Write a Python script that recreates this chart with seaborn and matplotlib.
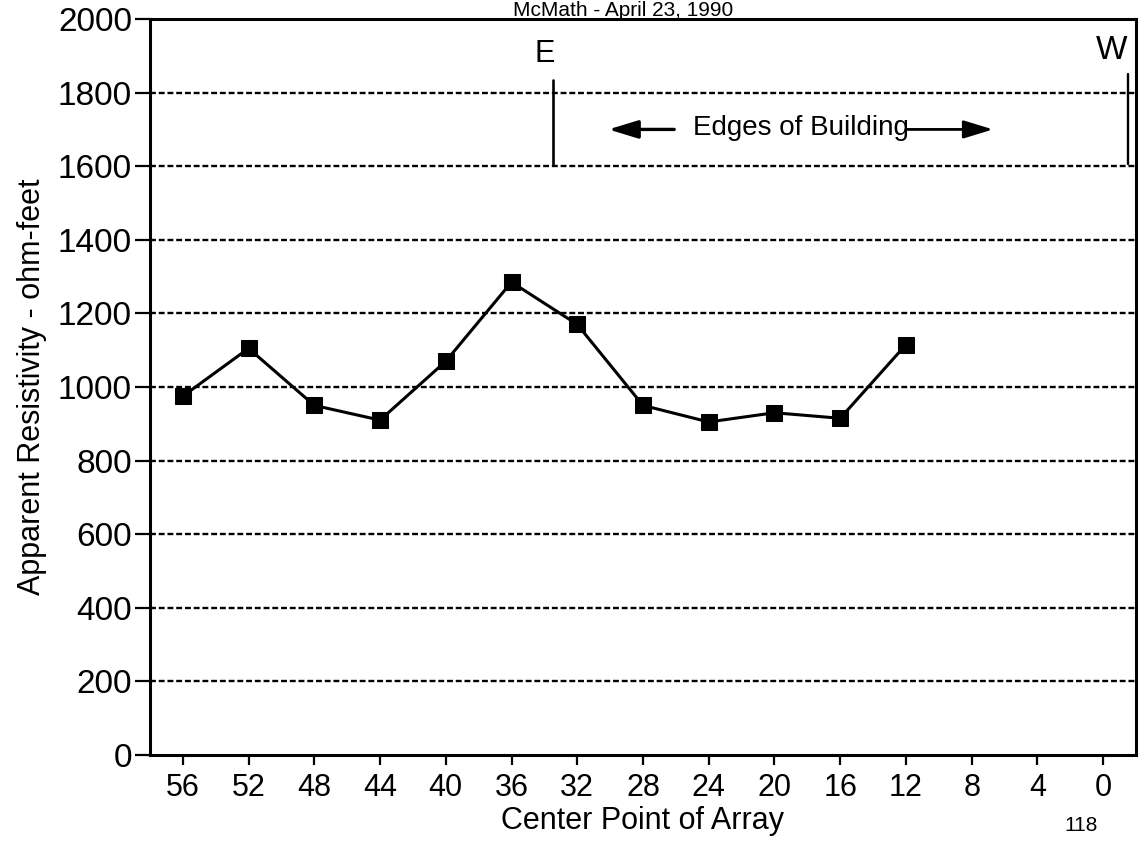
import matplotlib
matplotlib.use("Agg")
import matplotlib.pyplot as plt
import seaborn as sns
import pandas as pd

# Apparent resistivity survey, McMath site
center_points = [56, 52, 48, 44, 40, 36, 32, 28, 24, 20, 16, 12]
resistivity = [975, 1105, 950, 910, 1070, 1285, 1170, 950, 905, 930, 915, 1115]
x_ticks = [56, 52, 48, 44, 40, 36, 32, 28, 24, 20, 16, 12, 8, 4, 0]
y_ticks = [0, 200, 400, 600, 800, 1000, 1200, 1400, 1600, 1800, 2000]
edge_east = 33.5
edge_west = -1.5

sns.set_style("ticks")
plt.rcParams["font.family"] = ["Liberation Sans", "DejaVu Sans"]
plt.rcParams["text.color"] = "black"
plt.rcParams["axes.labelcolor"] = "black"

df = pd.DataFrame({"center": center_points, "rho": resistivity})

fig = plt.figure(figsize=(11.44, 8.46), dpi=100)
ax = fig.add_axes([0.1311, 0.1076, 0.8619, 0.8699])

# dotted reference lines across the plot
for yv in y_ticks[1:-1]:
    ax.axhline(yv, color="black", lw=1.7, ls=(0, (2.5, 1.2)), zorder=1)

sns.lineplot(data=df, x="center", y="rho", ax=ax, color="black", lw=2.2,
             marker="s", markersize=11, markeredgecolor="black",
             markerfacecolor="black", zorder=3)

ax.set_xlim(58, -2)
ax.set_ylim(0, 2000)
ax.set_xticks(x_ticks)
ax.set_xticklabels([str(v) for v in x_ticks])
ax.set_yticks(y_ticks)
ax.set_yticklabels([str(v) for v in y_ticks])
ax.tick_params(axis="x", labelsize=22, length=7, width=1.6, pad=6,
               colors="black", labelcolor="black")
ax.tick_params(axis="y", labelsize=24, length=11, width=1.6, pad=2,
               colors="black", labelcolor="black")

ax.set_xlabel("Center Point of Array", fontsize=22, labelpad=2, color="black")
ax.set_ylabel("Apparent Resistivity - ohm-feet", fontsize=22, labelpad=8,
              color="black")

for s in ax.spines.values():
    s.set_visible(True)
    s.set_color("black")
    s.set_linewidth(2.2)

# building edge markers
ax.plot([edge_east, edge_east], [1605, 1835], color="black", lw=1.9, zorder=2)
ax.plot([edge_west, edge_west], [1605, 1850], color="black", lw=1.7, zorder=2)
ax.text(edge_east + 0.5, 1905, "E", fontsize=22, ha="center", va="center")
ax.text(edge_west + 1.0, 1915, "W", fontsize=24, ha="center", va="center")

ax.text(18.4, 1705, "Edges of Building", fontsize=20, ha="center", va="center")
ax.annotate("", xy=(30.1, 1700), xytext=(26.1, 1700),
            arrowprops=dict(arrowstyle="-|>,head_length=1.8,head_width=0.55",
                            color="black", lw=2.4, shrinkA=0, shrinkB=0))
ax.annotate("", xy=(6.7, 1700), xytext=(12.0, 1700),
            arrowprops=dict(arrowstyle="-|>,head_length=1.8,head_width=0.55",
                            color="black", lw=2.0, shrinkA=0, shrinkB=0))

fig.text(0.545, 0.9815, "McMath - April 23, 1990", fontsize=15,
         ha="center", va="baseline")
fig.text(0.945, 0.018, "118", fontsize=15, ha="center", va="baseline")

fig.savefig("out.png", dpi=100, facecolor="white")
